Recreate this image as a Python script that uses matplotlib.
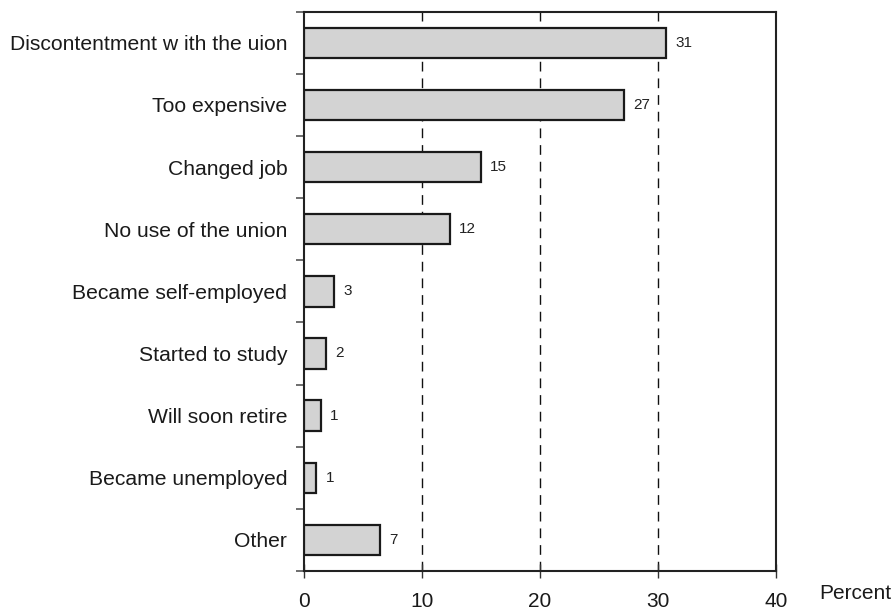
import matplotlib
matplotlib.use("Agg")
import matplotlib.pyplot as plt
import numpy as np

categories = ["Discontentment w ith the uion", "Too expensive", "Changed job",
              "No use of the union", "Became self-employed", "Started to study",
              "Will soon retire", "Became unemployed", "Other"]
values = [30.7, 27.1, 15.0, 12.4, 2.55, 1.85, 1.4, 1.05, 6.45]
value_labels = ["31", "27", "15", "12", "3", "2", "1", "1", "7"]
xticks = [0, 10, 20, 30, 40]

plt.rcParams['font.family'] = ['Liberation Sans', 'DejaVu Sans']

fig = plt.figure(figsize=(8.94, 6.11), dpi=100)
ax = fig.add_axes([304/894, 1-571/611, (776-304)/894, (571-11.7)/611])

n = len(categories)
y = np.arange(n)
ax.barh(y, values, height=0.49, color='#d3d3d3', edgecolor='#1a1a1a', linewidth=1.6, zorder=3)
for yi, v, lab in zip(y, values, value_labels):
    ax.annotate(lab, (v, yi), xytext=(6.5, 0), textcoords='offset points',
                va='center', ha='left', fontsize=11, color='#222222')

ax.set_xlim(0, 40)
ax.set_ylim(n - 0.5, -0.5)
ax.set_xticks(xticks)
ax.set_xticklabels([str(t) for t in xticks])
ax.set_yticks(y)
ax.set_yticklabels(categories)
ax.set_yticks(np.arange(-0.5, n, 1.0), minor=True)
ax.tick_params(axis='y', which='major', length=0, pad=12, labelsize=15.2, labelcolor='#1a1a1a')
ax.tick_params(axis='y', which='minor', length=6, width=1.2, color='#555555', direction='out')
ax.tick_params(axis='x', which='major', length=10, width=1.0, direction='inout', pad=10,
               labelsize=15, labelcolor='#1a1a1a', color='#333333')
for g in [10, 20, 30]:
    ax.axvline(g, color='#111111', linewidth=1.0, linestyle=(0, (7, 5)), zorder=1)
for s in ax.spines.values():
    s.set_linewidth(1.5)
    s.set_color('#222222')

fig.text(819/894, 1-599/611, "Percent", fontsize=15, ha='left', va='baseline', color='#1a1a1a')

fig.savefig("out.png", dpi=100)
